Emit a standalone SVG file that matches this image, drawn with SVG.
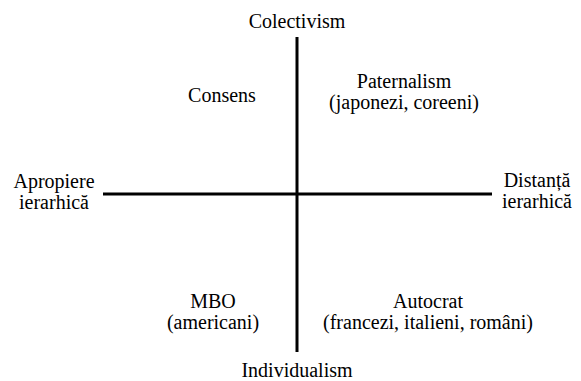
<svg xmlns="http://www.w3.org/2000/svg" width="581" height="381" viewBox="0 0 581 381">
<style>
text{font-size:20px;fill:#000;text-anchor:middle}
.axis{stroke:#000;stroke-width:3;fill:none}
</style>
<rect width="581" height="381" fill="#fff"/>
<g id="connectors">
<line class="axis" x1="297" y1="37" x2="297" y2="352"/>
<line class="axis" x1="103" y1="194" x2="492" y2="194"/>
</g>
<g id="colectivism"><text x="297" y="28" font-family="Times New Roman">Colectivism</text></g>
<g id="individualism"><text x="297" y="377" font-family="Times New Roman">Individualism</text></g>
<g id="apropiere"><text x="54" y="188" font-family="Times New Roman">Apropiere</text><text x="54" y="209" font-family="Times New Roman">ierarhică</text></g>
<g id="distanta"><text x="537" y="187" font-family="Times New Roman">Distanță</text><text x="537" y="208" font-family="Times New Roman">ierarhică</text></g>
<g id="consens"><text x="222" y="102" font-family="Times New Roman">Consens</text></g>
<g id="paternalism"><text x="404" y="88" font-family="Times New Roman">Paternalism</text><text x="404" y="109" font-family="Times New Roman">(japonezi, coreeni)</text></g>
<g id="mbo"><text x="213" y="308" font-family="Times New Roman">MBO</text><text x="213" y="329" font-family="Times New Roman">(americani)</text></g>
<g id="autocrat"><text x="428" y="308" font-family="Times New Roman">Autocrat</text><text x="428" y="329" font-family="Times New Roman">(francezi, italieni, români)</text></g>
</svg>
